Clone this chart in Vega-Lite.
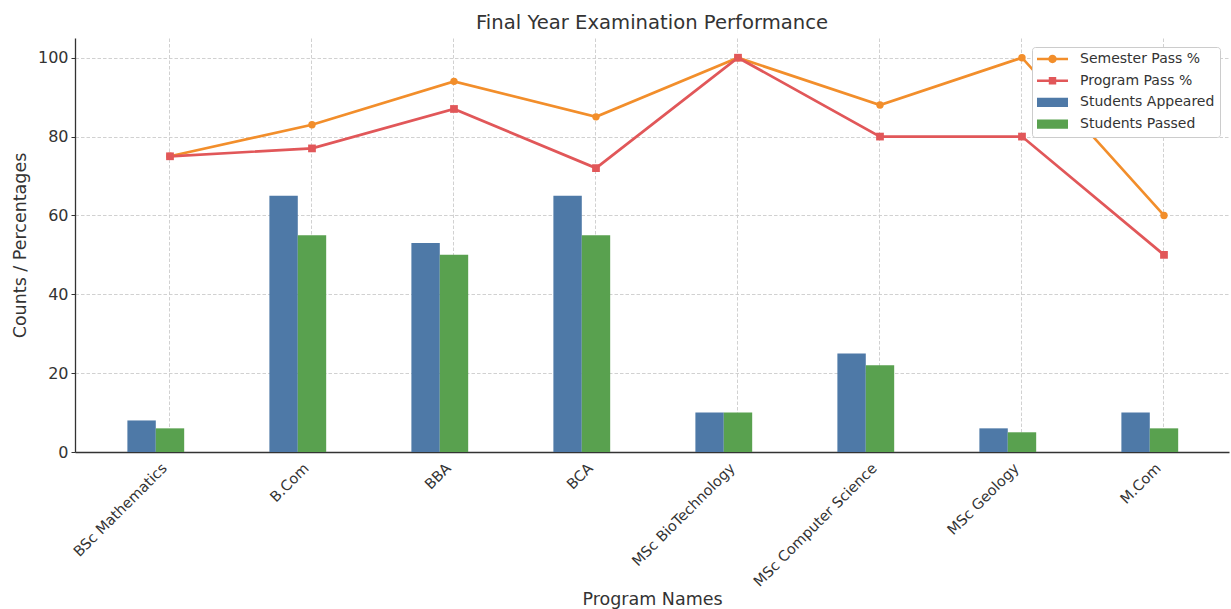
{
  "$schema": "https://vega.github.io/schema/vega-lite/v6.json",
  "width": 1154,
  "height": 414,
  "autosize": {"type": "none"},
  "padding": {"left": 75, "top": 38, "right": 2, "bottom": 157},
  "title": {"text": "Final Year Examination Performance", "fontSize": 19.6, "fontWeight": "normal", "color": "#333333", "anchor": "middle", "frame": "group", "baseline": "alphabetic", "offset": -11},
  "config": {
    "font": "DejaVu Sans",
    "view": {"stroke": null},
    "legend": {"symbolOpacity": 1, "symbolStrokeWidth": 0},
    "axis": {"labelFont": "DejaVu Sans", "titleFont": "DejaVu Sans", "labelColor": "#333333", "titleColor": "#333333", "titleFontWeight": "normal", "domainColor": "#333333", "domainWidth": 1.3, "tickColor": "#333333", "gridColor": "#cccccc", "gridDash": [3.5, 2], "gridWidth": 0.9}
  },
  "data": {"values": [
    {"program": "BSc Mathematics", "series": "Students Appeared", "value": 8},
    {"program": "B.Com", "series": "Students Appeared", "value": 65},
    {"program": "BBA", "series": "Students Appeared", "value": 53},
    {"program": "BCA", "series": "Students Appeared", "value": 65},
    {"program": "MSc BioTechnology", "series": "Students Appeared", "value": 10},
    {"program": "MSc Computer Science", "series": "Students Appeared", "value": 25},
    {"program": "MSc Geology", "series": "Students Appeared", "value": 6},
    {"program": "M.Com", "series": "Students Appeared", "value": 10},
    {"program": "BSc Mathematics", "series": "Students Passed", "value": 6},
    {"program": "B.Com", "series": "Students Passed", "value": 55},
    {"program": "BBA", "series": "Students Passed", "value": 50},
    {"program": "BCA", "series": "Students Passed", "value": 55},
    {"program": "MSc BioTechnology", "series": "Students Passed", "value": 10},
    {"program": "MSc Computer Science", "series": "Students Passed", "value": 22},
    {"program": "MSc Geology", "series": "Students Passed", "value": 5},
    {"program": "M.Com", "series": "Students Passed", "value": 6},
    {"program": "BSc Mathematics", "series": "Semester Pass %", "value": 75},
    {"program": "B.Com", "series": "Semester Pass %", "value": 83},
    {"program": "BBA", "series": "Semester Pass %", "value": 94},
    {"program": "BCA", "series": "Semester Pass %", "value": 85},
    {"program": "MSc BioTechnology", "series": "Semester Pass %", "value": 100},
    {"program": "MSc Computer Science", "series": "Semester Pass %", "value": 88},
    {"program": "MSc Geology", "series": "Semester Pass %", "value": 100},
    {"program": "M.Com", "series": "Semester Pass %", "value": 60},
    {"program": "BSc Mathematics", "series": "Program Pass %", "value": 75},
    {"program": "B.Com", "series": "Program Pass %", "value": 77},
    {"program": "BBA", "series": "Program Pass %", "value": 87},
    {"program": "BCA", "series": "Program Pass %", "value": 72},
    {"program": "MSc BioTechnology", "series": "Program Pass %", "value": 100},
    {"program": "MSc Computer Science", "series": "Program Pass %", "value": 80},
    {"program": "MSc Geology", "series": "Program Pass %", "value": 80},
    {"program": "M.Com", "series": "Program Pass %", "value": 50}
  ]},
  "encoding": {
    "x": {
      "field": "program", "type": "nominal", "sort": null,
      "scale": {"type": "band", "paddingInner": 0.2, "paddingOuter": 0.1634, "align": 0.823},
      "axis": {"title": "Program Names", "titleFontSize": 17.5, "titlePadding": 2, "labelAngle": -45, "labelFontSize": 14.5, "labelPadding": 9, "labelOffset": -10, "ticks": false, "grid": true, "bandPosition": 0.5, "labelOverlap": false}
    },
    "y": {
      "field": "value", "type": "quantitative",
      "scale": {"domain": [0, 105], "nice": false},
      "axis": {"title": "Counts / Percentages", "titleFontSize": 17.5, "titlePadding": 8, "values": [0, 20, 40, 60, 80, 100], "labelFontSize": 16, "tickSize": 4, "labelPadding": 3, "grid": true}
    }
  },
  "layer": [
    {
      "transform": [{"filter": {"field": "series", "oneOf": ["Students Appeared", "Students Passed"]}}],
      "mark": {"type": "bar", "opacity": 1},
      "encoding": {
        "xOffset": {"field": "series", "type": "nominal", "scale": {"domain": ["Students Appeared", "Students Passed"], "range": [14.2, 71], "paddingInner": 0, "paddingOuter": 0}},
        "color": {
          "field": "series", "type": "nominal",
          "scale": {"domain": ["Semester Pass %", "Program Pass %", "Students Appeared", "Students Passed"], "range": ["#f28e2b", "#e15759", "#4e79a7", "#59a14f"]},
          "legend": {
            "title": null, "orient": "none", "legendX": 957, "legendY": 9,
            "symbolSize": 961, "clipHeight": 14, "rowPadding": 7.7, "labelOffset": 12, "padding": 5,
            "fillColor": "#ffffff", "strokeColor": "#cccccc", "cornerRadius": 3,
            "labelFontSize": 14, "labelColor": "#333333", "labelFont": "DejaVu Sans"
          }
        }
      }
    },
    {
      "transform": [{"filter": {"field": "series", "oneOf": ["Semester Pass %", "Program Pass %"]}}],
      "mark": {"type": "line", "strokeWidth": 2.7},
      "encoding": {
        "color": {"field": "series", "type": "nominal", "scale": {"domain": ["Semester Pass %", "Program Pass %", "Students Appeared", "Students Passed"], "range": ["#f28e2b", "#e15759", "#4e79a7", "#59a14f"]}}
      }
    },
    {
      "mark": {"type": "point", "filled": true, "opacity": 0},
      "encoding": {
        "color": {"field": "series", "type": "nominal", "scale": {"domain": ["Semester Pass %", "Program Pass %", "Students Appeared", "Students Passed"], "range": ["#f28e2b", "#e15759", "#4e79a7", "#59a14f"]}},
        "shape": {"field": "series", "type": "nominal", "scale": {"domain": ["Semester Pass %", "Program Pass %", "Students Appeared", "Students Passed"], "range": ["M-1,-0.085H1V0.085H-1Z M0.27,0A0.27,0.27 0 1,1 -0.27,0A0.27,0.27 0 1,1 0.27,0Z", "M-1,-0.085H1V0.085H-1Z M-0.24,-0.24H0.24V0.24H-0.24Z", "M-1,-0.3H1V0.3H-1Z", "M-1,-0.3H1V0.3H-1Z"]}}
      }
    },
    {
      "transform": [{"filter": {"field": "series", "equal": "Semester Pass %"}}],
      "mark": {"type": "point", "filled": true, "opacity": 1, "size": 55, "shape": "circle"},
      "encoding": {
        "color": {"field": "series", "type": "nominal", "scale": {"domain": ["Semester Pass %", "Program Pass %", "Students Appeared", "Students Passed"], "range": ["#f28e2b", "#e15759", "#4e79a7", "#59a14f"]}}
      }
    },
    {
      "transform": [{"filter": {"field": "series", "equal": "Program Pass %"}}],
      "mark": {"type": "point", "filled": true, "opacity": 1, "size": 60, "shape": "square"},
      "encoding": {
        "color": {"field": "series", "type": "nominal", "scale": {"domain": ["Semester Pass %", "Program Pass %", "Students Appeared", "Students Passed"], "range": ["#f28e2b", "#e15759", "#4e79a7", "#59a14f"]}}
      }
    }
  ]
}
